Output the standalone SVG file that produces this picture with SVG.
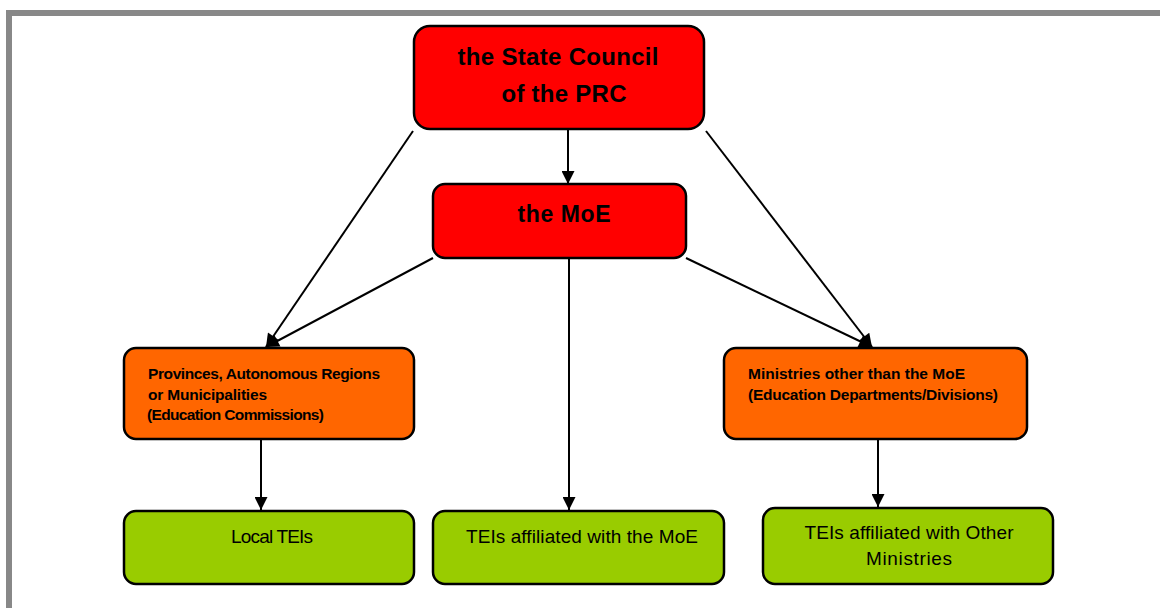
<svg xmlns="http://www.w3.org/2000/svg" width="1160" height="608" viewBox="0 0 1160 608">
<style>
.box{stroke:#000;stroke-width:2.5}
.red{fill:#FF0000}
.org{fill:#FF6600}
.grn{fill:#99CC00}
.t{font-family:"Liberation Sans",Arial,sans-serif;fill:#000}
.big{font-size:24px;font-weight:bold}
.mid{font-size:15.5px;font-weight:bold}
.reg{font-size:19px}
.c{stroke:#000;stroke-width:2;fill:none;marker-end:url(#ah)}
</style>
<defs>
<marker id="ah" viewBox="0 0 10 10" refX="10" refY="5" markerWidth="7" markerHeight="6.5" markerUnits="strokeWidth" orient="auto">
<path d="M0,0 L10,5 L0,10 z" fill="#000"/>
</marker>
</defs>
<rect x="0" y="0" width="1160" height="608" fill="#fff"/>
<rect x="9" y="13" width="1156" height="620" fill="none" stroke="#888" stroke-width="6"/>
<g id="connectors">
<line class="c" x1="568" y1="130" x2="568" y2="184"/>
<line class="c" x1="413" y1="131" x2="266" y2="347"/>
<line class="c" x1="433" y1="258" x2="266" y2="347"/>
<line class="c" x1="706" y1="131" x2="872" y2="347"/>
<line class="c" x1="686" y1="258" x2="872" y2="347"/>
<line class="c" x1="569" y1="259" x2="569" y2="510"/>
<line class="c" x1="261" y1="440" x2="261" y2="510"/>
<line class="c" x1="878" y1="440" x2="878" y2="507"/>
</g>
<g id="state-council">
<rect class="box red" x="414" y="26" width="290" height="103" rx="16"/>
<text class="t big" x="558" y="65" text-anchor="middle" textLength="201" lengthAdjust="spacing">the State Council</text>
<text class="t big" x="564" y="102" text-anchor="middle" textLength="125" lengthAdjust="spacing">of the PRC</text>
</g>
<g id="moe">
<rect class="box red" x="433" y="184" width="253" height="74" rx="12"/>
<text class="t big" x="564" y="222" text-anchor="middle" style="font-size:23px" textLength="93" lengthAdjust="spacing">the MoE</text>
</g>
<g id="provinces">
<rect class="box org" x="124" y="348" width="290" height="91" rx="12"/>
<text class="t mid" x="148" y="379" textLength="232" lengthAdjust="spacing">Provinces, Autonomous Regions</text>
<text class="t mid" x="148" y="400" textLength="119" lengthAdjust="spacing">or Municipalities</text>
<text class="t mid" x="147" y="420" textLength="177" lengthAdjust="spacing">(Education Commissions)</text>
</g>
<g id="ministries">
<rect class="box org" x="724" y="348" width="303" height="91" rx="12"/>
<text class="t mid" x="748" y="379" textLength="217" lengthAdjust="spacing">Ministries other than the MoE</text>
<text class="t mid" x="748" y="400" textLength="250" lengthAdjust="spacing">(Education Departments/Divisions)</text>
</g>
<g id="local-teis">
<rect class="box grn" x="124" y="511" width="290" height="73" rx="12"/>
<text class="t reg" x="272" y="543" text-anchor="middle" textLength="82" lengthAdjust="spacing">Local TEIs</text>
</g>
<g id="teis-moe">
<rect class="box grn" x="433" y="511" width="291" height="73" rx="12"/>
<text class="t reg" x="582" y="543" text-anchor="middle" textLength="232" lengthAdjust="spacing">TEIs affiliated with the MoE</text>
</g>
<g id="teis-other">
<rect class="box grn" x="763" y="508" width="290" height="76" rx="12"/>
<text class="t reg" x="909" y="539" text-anchor="middle" textLength="209" lengthAdjust="spacing">TEIs affiliated with Other</text>
<text class="t reg" x="909" y="565" text-anchor="middle" textLength="86" lengthAdjust="spacing">Ministries</text>
</g>
</svg>
